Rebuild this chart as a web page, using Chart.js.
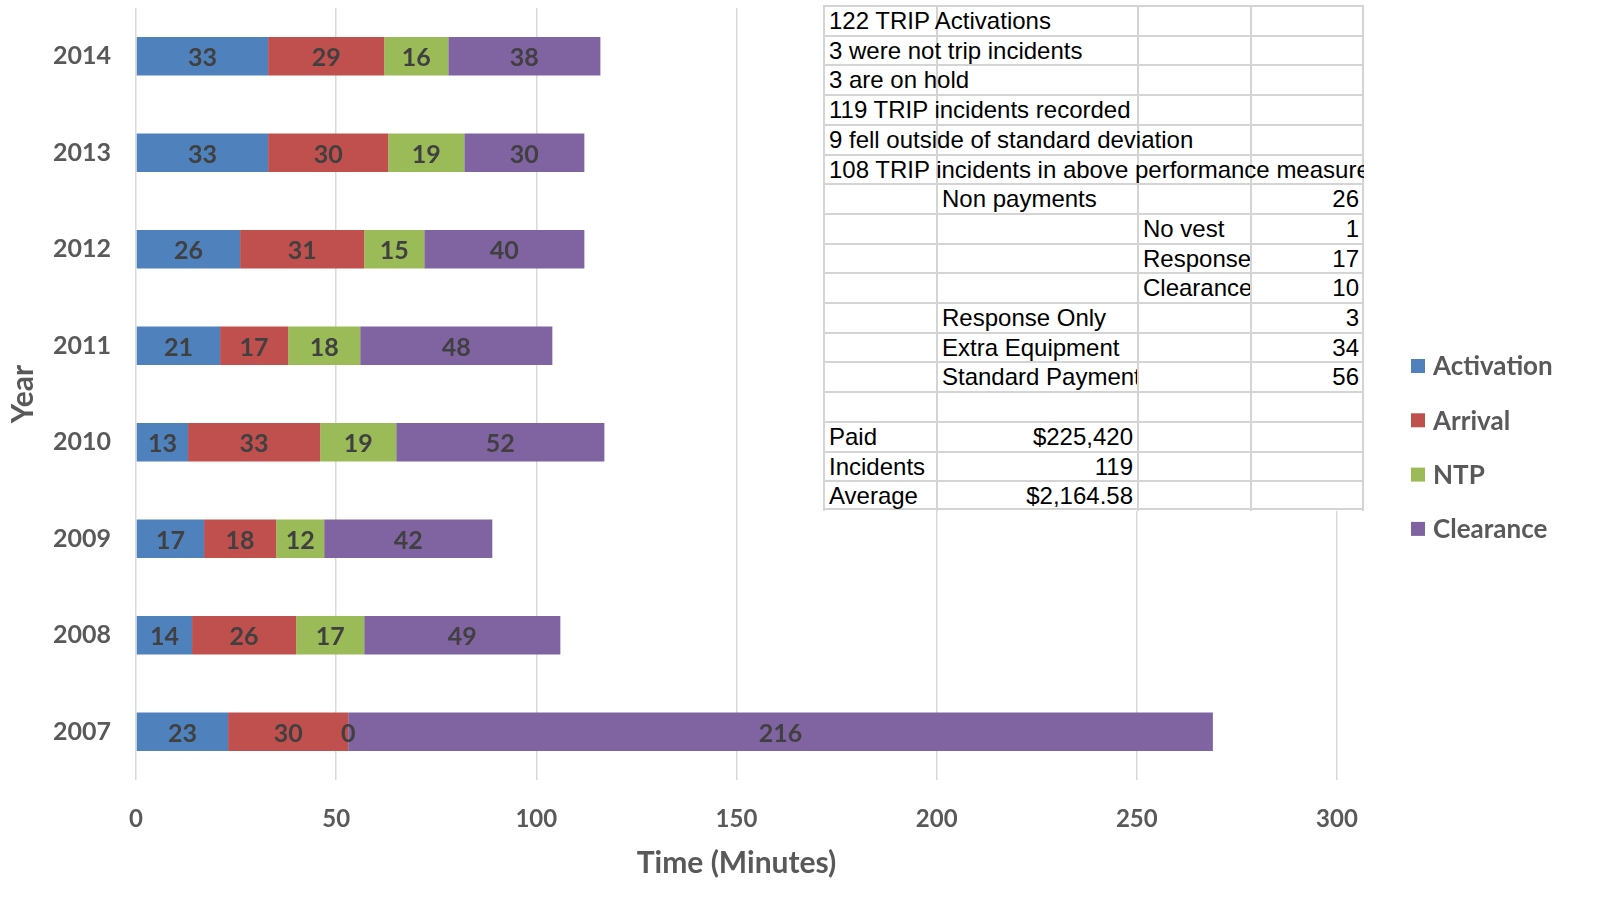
<!DOCTYPE html>
<html>
<head>
<meta charset="utf-8">
<script src="https://cdn.jsdelivr.net/npm/chart.js@4.4.0/dist/chart.umd.min.js"></script>
<style>
  body { margin: 0; background: #fff; }
  #wrap { position: relative; width: 1601px; height: 898px; }
  #summary {
    position: absolute; left: 823px; top: 5px; width: 541px; height: 506px;
    background: #fff; overflow: hidden;
    font-family: "Liberation Sans", Arial, sans-serif; font-size: 24px; color: #000;
  }
  .gl { position: absolute; background: #d4d4d4; }
  .cell { position: absolute; white-space: nowrap; overflow: hidden; }
</style>
</head>
<body>
<div id="wrap">
  <canvas id="trip-chart"></canvas>
  <div id="summary"></div>
</div>
<script>
const years = ['2014', '2013', '2012', '2011', '2010', '2009', '2008', '2007'];
const activation = [33, 33, 26, 21, 13, 17, 14, 23];
const arrival = [29, 30, 31, 17, 33, 18, 26, 30];
const ntp = [16, 19, 15, 18, 19, 12, 17, 0];
const clearance = [38, 30, 40, 48, 52, 42, 49, 216];
const seriesNames = ['Activation', 'Arrival', 'NTP', 'Clearance'];
const seriesColors = ['#4F81BD', '#C0504D', '#9BBB59', '#8064A2'];
const timeTicks = [0, 50, 100, 150, 200, 250, 300];

// spreadsheet block pasted over the chart: [row, col, text, align, colspan]
const summaryCells = [
    [0, 0, '122 TRIP Activations', 'left', 4],
    [1, 0, '3 were not trip incidents', 'left', 4],
    [2, 0, '3 are on hold', 'left', 4],
    [3, 0, '119 TRIP incidents recorded', 'left', 4],
    [4, 0, '9 fell outside of standard deviation', 'left', 4],
    [5, 0, '108 TRIP incidents in above performance measure', 'left', 4],
    [6, 1, 'Non payments', 'left', 2],
    [6, 3, '26', 'right', 1],
    [7, 2, 'No vest', 'left', 1],
    [7, 3, '1', 'right', 1],
    [8, 2, 'Response', 'left', 1],
    [8, 3, '17', 'right', 1],
    [9, 2, 'Clearance', 'left', 1],
    [9, 3, '10', 'right', 1],
    [10, 1, 'Response Only', 'left', 2],
    [10, 3, '3', 'right', 1],
    [11, 1, 'Extra Equipment', 'left', 2],
    [11, 3, '34', 'right', 1],
    [12, 1, 'Standard Payments', 'left', 1],
    [12, 3, '56', 'right', 1],
    [14, 0, 'Paid', 'left', 1],
    [14, 1, '$225,420', 'right', 1],
    [15, 0, 'Incidents', 'left', 1],
    [15, 1, '119', 'right', 1],
    [16, 0, 'Average', 'left', 1],
    [16, 1, '$2,164.58', 'right', 1]
];
const colEdges = [0, 113, 314, 427, 540];
const rowCount = 17;
const rowH = 29.7;

function buildSummary() {
    const box = document.getElementById('summary');
    for (let r = 0; r <= rowCount; r++) {
        const l = document.createElement('div');
        l.className = 'gl';
        l.style.cssText = `left:0;top:${r * rowH - (r === rowCount ? 2 : 0)}px;width:541px;height:2px`;
        box.appendChild(l);
    }
    colEdges.forEach((x, i) => {
        const l = document.createElement('div');
        l.className = 'gl';
        l.style.cssText = `left:${i === colEdges.length - 1 ? x - 1 : x}px;top:0;width:2px;height:506px`;
        box.appendChild(l);
    });
    summaryCells.forEach(([row, col, text, align, span]) => {
        const c = document.createElement('div');
        c.className = 'cell';
        const left = colEdges[col] + 6;
        const width = colEdges[col + span] - colEdges[col] - (align === 'right' ? 10 : (span === 4 ? 5 : 6));
        c.style.cssText = `left:${left}px;top:${row * rowH + 1}px;width:${width}px;height:${rowH}px;line-height:${rowH}px;text-align:${align}`;
        c.textContent = text;
        box.appendChild(c);
    });
}
buildSummary();

const barLabels = {
    id: 'barLabels',
    afterDatasetsDraw(chart) {
        const ctx = chart.ctx;
        ctx.save();
        ctx.font = 'bold 25px Lato';
        ctx.fillStyle = '#404040';
        ctx.textAlign = 'center';
        ctx.textBaseline = 'middle';
        chart.data.datasets.forEach((ds, i) => {
            chart.getDatasetMeta(i).data.forEach((bar, j) => {
                ctx.fillText(String(ds.data[j]), (bar.x + bar.base) / 2, bar.y + 2);
            });
        });
        ctx.restore();
    }
};

const sideLegend = {
    id: 'sideLegend',
    afterDraw(chart) {
        const ctx = chart.ctx;
        const x = chart.chartArea.right + 74;
        ctx.save();
        ctx.font = 'bold 26px Lato';
        ctx.textBaseline = 'middle';
        chart.data.datasets.forEach((ds, i) => {
            const y = 366 + i * 54.3;
            ctx.fillStyle = ds.backgroundColor;
            ctx.fillRect(x, y - 7, 14, 14);
            ctx.fillStyle = '#595959';
            ctx.fillText(ds.label, x + 22, y + 1);
        });
        ctx.restore();
    }
};

const ctx = document.getElementById('trip-chart').getContext('2d');
new Chart(ctx, {
    type: 'bar',
    data: {
        labels: years,
        datasets: [activation, arrival, ntp, clearance].map((vals, i) => ({
            label: seriesNames[i],
            data: vals,
            backgroundColor: seriesColors[i],
            borderWidth: 0,
            categoryPercentage: 1,
            barPercentage: 0.4
        }))
    },
    options: {
        indexAxis: 'y',
        responsive: true,
        maintainAspectRatio: false,
        animation: false,
        layout: { padding: { top: 8, left: 5, right: 264, bottom: 0 } },
        plugins: {
            legend: { display: false },
            tooltip: { enabled: false }
        },
        scales: {
            x: {
                stacked: true,
                min: timeTicks[0],
                max: timeTicks[timeTicks.length - 1],
                afterBuildTicks: scale => { scale.ticks = timeTicks.map(v => ({ value: v })); },
                afterFit: scale => { scale.height = 118; },
                grid: { color: '#d9d9d9', lineWidth: 1.5, drawTicks: false },
                border: { display: false },
                ticks: { padding: 25, color: '#595959', font: { family: 'Lato', size: 24, weight: 'bold' } },
                title: {
                    display: true,
                    text: 'Time (Minutes)',
                    color: '#595959',
                    font: { family: 'Lato', size: 30, weight: 'bold' },
                    padding: { top: 0, bottom: 17 }
                }
            },
            y: {
                stacked: true,
                afterFit: scale => {
                    scale.width = 131;
                    scale.paddingTop = 0;
                    scale.paddingBottom = 0;
                },
                grid: { display: false, drawTicks: false },
                border: { display: false },
                ticks: { padding: 25, color: '#595959', font: { family: 'Lato', size: 25, weight: 'bold' } },
                title: {
                    display: true,
                    text: 'Year',
                    color: '#595959',
                    font: { family: 'Lato', size: 30, weight: 'bold' },
                    padding: { top: 0, bottom: 0 }
                }
            }
        }
    },
    plugins: [barLabels, sideLegend]
});
</script>
</body>
</html>
